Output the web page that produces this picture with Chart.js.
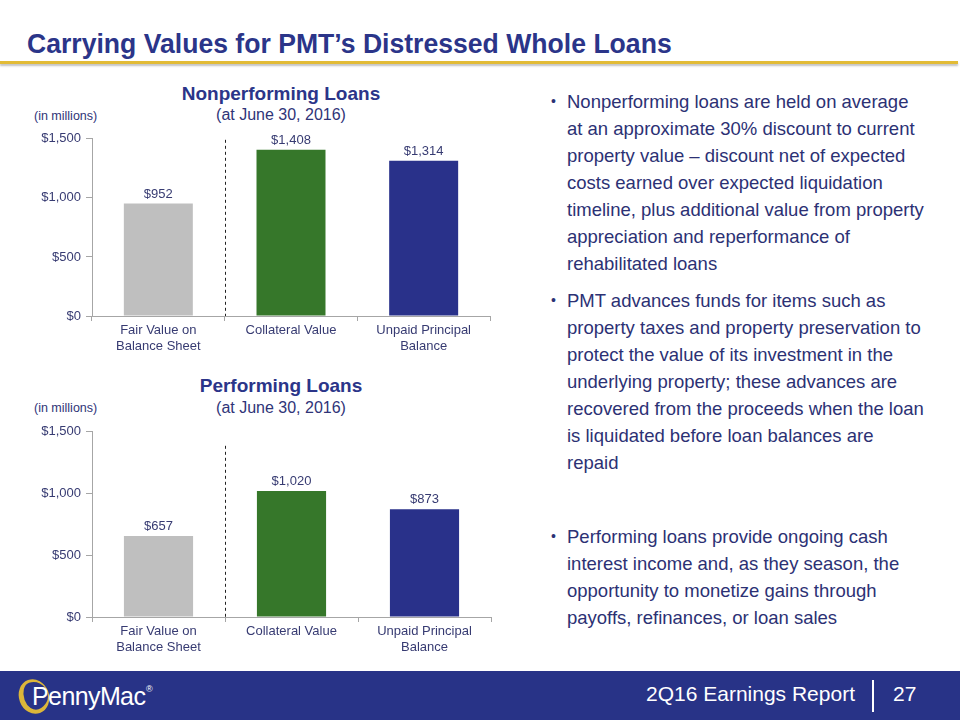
<!DOCTYPE html>
<html>
<head>
<meta charset="utf-8">
<script src="https://cdn.jsdelivr.net/npm/chart.js@4.4.0/dist/chart.umd.min.js"></script>
<style>
  html, body { margin: 0; padding: 0; background: #fff; }
  body { width: 960px; height: 720px; position: relative; overflow: hidden; font-family: "Liberation Sans", Arial, sans-serif; color: #2b3380; }
  .abs { position: absolute; white-space: nowrap; }
  #title { left: 27px; top: 29px; font-size: 27px; font-weight: bold; color: #2b3589; transform-origin: left center; }
  #rule { left: 0; top: 61px; width: 958px; height: 3px; background: #e2bb36; box-shadow: 0 2px 2px rgba(120,120,120,0.45); }
  .ctitle { font-size: 19px; font-weight: bold; color: #2b3589; text-align: center; width: 300px; }
  .csub { font-size: 16px; color: #2f3478; text-align: center; width: 300px; }
  .units { font-size: 12.5px; color: #2f3478; }
  .chartbox { position: absolute; left: 0; width: 500px; }
  .bullets { left: 551px; font-size: 18.5px; line-height: 27px; color: #2c3174; }
  .bullets .dot { position: absolute; left: 0; top: 0; font-size: 14px; }
  .bullets .txt { position: absolute; left: 16px; top: 0; }
  #footer { left: 0; top: 671px; width: 960px; height: 49px; background: #283387; }
  #report { right: 105px; top: 682px; font-size: 21px; color: #fff; }
  #sep { left: 872px; top: 680px; width: 2px; height: 32px; background: #fff; }
  #page { left: 893px; top: 682px; font-size: 21px; color: #fff; }
  #ring { left: 19px; top: 679px; width: 24px; height: 28px; border-radius: 50%; border-style: solid; border-color: #dcb63a; border-width: 3px 1px 4px 5px; transform: rotate(-20deg); }
  #logo { left: 32px; top: 682px; font-size: 25px; color: #fff; letter-spacing: -0.6px; }
  #reg { left: 149px; top: 684px; font-size: 9px; color: #fff; }
</style>
</head>
<body>
<div id="title" class="abs">Carrying Values for PMT’s Distressed Whole Loans</div>
<div id="rule" class="abs"></div>

<div class="abs ctitle" style="left:131px; top:83px;">Nonperforming Loans</div>
<div class="abs csub" style="left:131px; top:106px;">(at June 30, 2016)</div>
<div class="abs units" style="left:34px; top:109px;">(in millions)</div>
<div class="chartbox" style="top:126px; height:236px;"><canvas id="npl"></canvas></div>

<div class="abs ctitle" style="left:131px; top:375px;">Performing Loans</div>
<div class="abs csub" style="left:131px; top:399px;">(at June 30, 2016)</div>
<div class="abs units" style="left:34px; top:401px;">(in millions)</div>
<div class="chartbox" style="top:419px; height:244px;"><canvas id="pl"></canvas></div>

<div class="abs bullets" style="top:88px;"><span class="dot">•</span><div class="txt">Nonperforming loans are held on average<br>at an approximate 30% discount to current<br>property value – discount net of expected<br>costs earned over expected liquidation<br>timeline, plus additional value from property<br>appreciation and reperformance of<br>rehabilitated loans</div></div>
<div class="abs bullets" style="top:287px;"><span class="dot">•</span><div class="txt">PMT advances funds for items such as<br>property taxes and property preservation to<br>protect the value of its investment in the<br>underlying property; these advances are<br>recovered from the proceeds when the loan<br>is liquidated before loan balances are<br>repaid</div></div>
<div class="abs bullets" style="top:523px;"><span class="dot">•</span><div class="txt">Performing loans provide ongoing cash<br>interest income and, as they season, the<br>opportunity to monetize gains through<br>payoffs, refinances, or loan sales</div></div>

<div id="footer" class="abs"></div>
<div id="ring" class="abs"></div>
<div id="logo" class="abs">PennyMac</div>
<div id="reg" class="abs">®</div>
<div id="report" class="abs">2Q16 Earnings Report</div>
<div id="sep" class="abs"></div>
<div id="page" class="abs">27</div>

<script>
// data
const categories = [['Fair Value on', 'Balance Sheet'], 'Collateral Value', ['Unpaid Principal', 'Balance']];
const nonperformingValues = [952, 1408, 1314];
const performingValues = [657, 1020, 873];
const yTicks = [0, 500, 1000, 1500];
const barColors = ['#bfbfbf', '#36772a', '#29318a'];

const textColor = '#373b72';
const axisColor = '#a6a6a6';

Chart.defaults.font.family = '"Liberation Sans", Arial, sans-serif';
Chart.defaults.font.size = 13;
Chart.defaults.color = textColor;

// stretch title to reference width
const titleEl = document.getElementById('title');
titleEl.style.transform = 'scaleX(' + (645 / titleEl.offsetWidth) + ')';

// ® sits right after the logo word
const logoEl = document.getElementById('logo');
document.getElementById('reg').style.left = (logoEl.offsetLeft + logoEl.offsetWidth + 1) + 'px';

const valueLabels = {
    id: 'valueLabels',
    afterDatasetsDraw(chart) {
        const ctx = chart.ctx;
        const meta = chart.getDatasetMeta(0);
        ctx.save();
        ctx.font = '13px "Liberation Sans", Arial, sans-serif';
        ctx.fillStyle = textColor;
        ctx.textAlign = 'center';
        ctx.textBaseline = 'bottom';
        meta.data.forEach((bar, i) => {
            const v = chart.data.datasets[0].data[i];
            ctx.fillText('$' + v.toLocaleString('en-US'), bar.x, bar.y - 3);
        });
        ctx.restore();
    }
};

const divider = {
    id: 'divider',
    afterDraw(chart, args, opts) {
        const x = chart.scales.x;
        const area = chart.chartArea;
        const px = (x.getPixelForValue(0) + x.getPixelForValue(1)) / 2;
        const ctx = chart.ctx;
        ctx.save();
        ctx.strokeStyle = '#222';
        ctx.lineWidth = 1;
        ctx.setLineDash([3, 3]);
        ctx.beginPath();
        ctx.moveTo(Math.round(px) + 0.5, area.top + opts.gap);
        ctx.lineTo(Math.round(px) + 0.5, area.bottom);
        ctx.stroke();
        ctx.restore();
    }
};

function makeChart(id, values, rightPad, gap) {
    return new Chart(document.getElementById(id), {
        type: 'bar',
        data: {
            labels: categories,
            datasets: [{ data: values, backgroundColor: barColors, barPercentage: 0.52, categoryPercentage: 1 }]
        },
        options: {
            responsive: true,
            maintainAspectRatio: false,
            animation: false,
            layout: { padding: { top: 10, right: rightPad, left: 0, bottom: 0 } },
            plugins: { legend: { display: false }, tooltip: { enabled: false }, divider: { gap: gap } },
            scales: {
                x: {
                    grid: { drawOnChartArea: false, drawTicks: true, tickLength: 5, color: axisColor },
                    border: { color: axisColor },
                    ticks: { padding: 2, color: textColor, font: { size: 13 } },
                    afterFit(scale) { scale.height = 46; }
                },
                y: {
                    min: 0,
                    max: 1500,
                    afterBuildTicks(scale) { scale.ticks = yTicks.map(v => ({ value: v })); },
                    grid: { drawOnChartArea: false, drawTicks: true, tickLength: 6, color: axisColor },
                    border: { color: axisColor },
                    ticks: { padding: 5, color: textColor, font: { size: 13 }, callback: v => '$' + v.toLocaleString('en-US') },
                    afterFit(scale) { scale.width = 92; }
                }
            }
        },
        plugins: [valueLabels, divider]
    });
}

makeChart('npl', nonperformingValues, 10, 1);
makeChart('pl', performingValues, 9, 14);
</script>
</body>
</html>
